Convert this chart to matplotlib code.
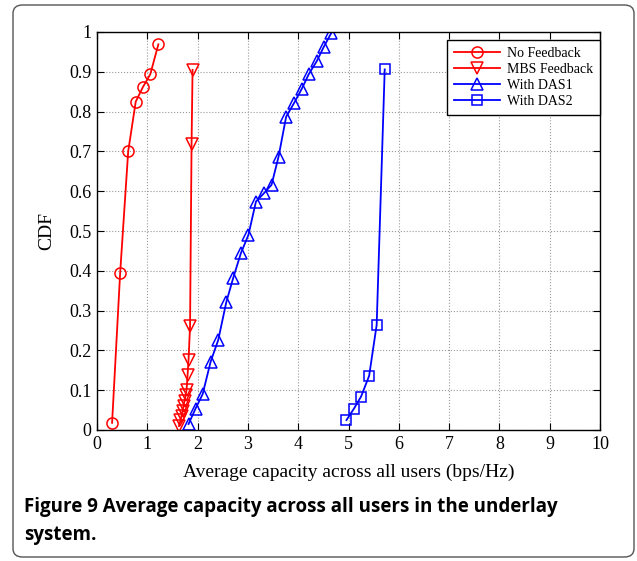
import matplotlib
matplotlib.use("Agg")
import matplotlib.pyplot as plt
from matplotlib.patches import FancyBboxPatch

# data
nofb_x = [0.30, 0.46, 0.62, 0.77, 0.91, 1.06, 1.22]
nofb_y = [0.018, 0.394, 0.700, 0.825, 0.861, 0.894, 0.969]

mbs_x = [1.63, 1.66, 1.68, 1.70, 1.72, 1.74, 1.76, 1.78, 1.80, 1.82, 1.85, 1.88, 1.90]
mbs_y = [0.010, 0.024, 0.036, 0.048, 0.061, 0.074, 0.087, 0.100, 0.137, 0.177, 0.261, 0.719, 0.905]

das1_x = [1.82, 1.96, 2.10, 2.26, 2.41, 2.57, 2.71, 2.86, 3.01, 3.16,
          3.32, 3.47, 3.61, 3.76, 3.92, 4.07, 4.21, 4.37, 4.51, 4.66]
das1_y = [0.015, 0.054, 0.090, 0.172, 0.226, 0.321, 0.383, 0.444, 0.490, 0.574,
          0.595, 0.616, 0.687, 0.787, 0.822, 0.857, 0.894, 0.927, 0.963, 0.998]

das2_x = [4.96, 5.11, 5.25, 5.41, 5.56, 5.72]
das2_y = [0.025, 0.054, 0.084, 0.136, 0.264, 0.906]

x_ticks = list(range(0, 11))
y_ticks = [0, 0.1, 0.2, 0.3, 0.4, 0.5, 0.6, 0.7, 0.8, 0.9, 1]
y_labels = ["0", "0.1", "0.2", "0.3", "0.4", "0.5", "0.6", "0.7", "0.8", "0.9", "1"]

plt.rcParams['font.family'] = ['Liberation Serif', 'DejaVu Serif']

fig = plt.figure(figsize=(6.37, 5.61), dpi=100)

# rounded frame around the whole figure
frame = FancyBboxPatch((13 / 637, 1 - 557 / 561), (634 - 13) / 637, (557 - 5) / 561,
                       boxstyle="round,pad=0,rounding_size=0.015",
                       transform=fig.transFigure, fill=False,
                       edgecolor='#555555', linewidth=1.0)
fig.patches.append(frame)

ax = fig.add_axes([97 / 637, 1 - 430 / 561, (600 - 97) / 637, (430 - 32) / 561])

ms = 8
ax.plot(nofb_x, nofb_y, color='red', marker='o', mfc='none', ms=ms, mew=1.1, lw=1.3, label='No Feedback')
ax.plot(mbs_x, mbs_y, color='red', marker='v', mfc='none', ms=ms, mew=1.1, lw=1.3, label='MBS Feedback')
ax.plot(das1_x, das1_y, color='blue', marker='^', mfc='none', ms=ms, mew=1.1, lw=1.3, label='With DAS1')
ax.plot(das2_x, das2_y, color='blue', marker='s', mfc='none', ms=6.5, mew=1.1, lw=1.3, label='With DAS2')

ax.set_xlim(0, 10)
ax.set_ylim(0, 1)
ax.set_xticks(x_ticks)
ax.set_yticks(y_ticks)
ax.set_yticklabels(y_labels)
ax.tick_params(direction='in', top=True, right=True, labelsize=13, length=5, pad=4)
ax.grid(True, linestyle=':', color='#999999', linewidth=0.8)
for s in ax.spines.values():
    s.set_linewidth(1.0)

ax.set_xlabel("Average capacity across all users (bps/Hz)", fontsize=14, labelpad=8)
ax.set_ylabel("CDF", fontsize=14, labelpad=10)

leg = ax.legend(loc='upper right', bbox_to_anchor=(1.0, 1 - 8 / 398), fontsize=10,
                fancybox=False, edgecolor='black', framealpha=1, handlelength=3.3,
                handletextpad=0.5, borderaxespad=0, labelspacing=0.22, borderpad=0.5)
leg.get_frame().set_linewidth(1.0)

fig.text(24 / 637, 1 - 507 / 561, "Figure 9 Average capacity across all users in the underlay",
         family='Open Sans', fontweight='bold', fontsize=13.5, va='center', ha='left')
fig.text(24 / 637, 1 - 535 / 561, "system.",
         family='Open Sans', fontweight='bold', fontsize=13.5, va='center', ha='left')

fig.savefig("out.png", dpi=100)
